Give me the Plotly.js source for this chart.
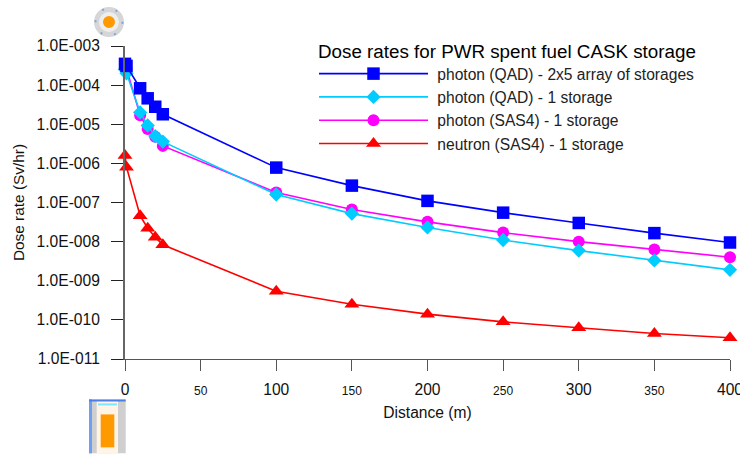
<!DOCTYPE html>
<html>
<head>
<meta charset="utf-8">
<script src="https://cdn.plot.ly/plotly-3.0.1.min.js"></script>
<style>html,body{margin:0;padding:0;background:#fff;}#c{width:740px;height:454px;}</style>
</head>
<body>
<div id="c"></div>
<script>
var distance = [0, 1, 10, 15, 20, 25, 100, 150, 200, 250, 300, 350, 400];
var photonQadArray = [3.5e-4, 3.1e-4, 8.3e-5, 4.6e-5, 2.8e-5, 1.8e-5, 7.8e-7, 2.7e-7, 1.1e-7, 5.5e-8, 3.0e-8, 1.65e-8, 9.5e-9];
var photonQadOne = [2.5e-4, 2.0e-4, 2.0e-5, 9.3e-6, 5.0e-6, 3.6e-6, 1.6e-7, 5.2e-8, 2.3e-8, 1.1e-8, 5.9e-9, 3.3e-9, 1.9e-9];
var photonSasOne = [3.0e-4, 2.6e-4, 1.7e-5, 7.6e-6, 4.8e-6, 2.8e-6, 1.8e-7, 6.6e-8, 3.2e-8, 1.7e-8, 1.0e-8, 6.3e-9, 4.0e-9];
var neutronSasOne = [1.6e-6, 8.0e-7, 4.6e-8, 2.2e-8, 1.3e-8, 8.3e-9, 5.4e-10, 2.5e-10, 1.4e-10, 8.9e-11, 6.3e-11, 4.5e-11, 3.5e-11];
var seriesNames = ['photon (QAD) - 2x5 array of storages', 'photon (QAD) - 1 storage', 'photon (SAS4) - 1 storage', 'neutron (SAS4) - 1 storage'];
var chartTitle = 'Dose rates for PWR spent fuel CASK storage';
var yTickVals = [1e-3, 1e-4, 1e-5, 1e-6, 1e-7, 1e-8, 1e-9, 1e-10, 1e-11];
var yTickText = ['1.0E-003', '1.0E-004', '1.0E-005', '1.0E-006', '1.0E-007', '1.0E-008', '1.0E-009', '1.0E-010', '1.0E-011'];
var xTickVals = [0, 50, 100, 150, 200, 250, 300, 350, 400];
var xTickText = ['0', '<span style="font-size:12px">50</span>', '100', '<span style="font-size:12px">150</span>', '200', '<span style="font-size:12px">250</span>', '300', '<span style="font-size:12px">350</span>', '400'];

function tr(y, name, color, symbol, size, rank) {
  return {x: distance, y: y, name: '\u00a0' + name, mode: 'lines+markers', cliponaxis: false, legendrank: rank,
    line: {color: color, width: 1.6},
    marker: {color: color, symbol: symbol, size: size, line: {width: 0}}};
}
var data = [
  tr(neutronSasOne, seriesNames[3], '#ff0000', 'triangle-up', 13, 4),
  tr(photonSasOne, seriesNames[2], '#ff00ff', 'circle', 12, 3),
  tr(photonQadOne, seriesNames[1], '#00ccff', 'diamond', 11, 2),
  tr(photonQadArray, seriesNames[0], '#0000ff', 'square', 12.5, 1)
];
var FONT = 'Liberation Sans, Arial, sans-serif';
var W = 605, H = 313.5;
function px(v) { return v / W; }
function py(v) { return v / H; }
function deco(type, x0, x1, y0, y1, fill, line) {
  return {type: type, xref: 'paper', yref: 'paper', x0: px(x0), x1: px(x1), y0: py(y0), y1: py(y1),
    fillcolor: fill, line: line || {width: 0}, layer: 'below'};
}
var top0 = H; // icon above the plot area is measured from the bottom of the plot
var layout = {
  width: 740, height: 454,
  margin: {l: 125, r: 10, t: 46, b: 94.5, pad: 0},
  paper_bgcolor: '#fff', plot_bgcolor: '#fff',
  font: {family: FONT, color: '#000', size: 15.6},
  showlegend: true,
  legend: {
    x: px(189), y: 1 - 11 / H, xanchor: 'left', yanchor: 'top',
    bgcolor: 'rgba(0,0,0,0)', borderwidth: 0,
    itemwidth: 109, itemclick: false,
    font: {family: FONT, size: 15.6, color: '#222'}
  },
  annotations: [{
    text: chartTitle, xref: 'paper', yref: 'paper', x: px(191), y: 1 - 6 / H,
    xanchor: 'left', yanchor: 'middle', showarrow: false,
    font: {family: FONT, size: 18.8, color: '#000'}
  }],
  xaxis: {
    range: [0, 400], tickmode: 'array', tickvals: xTickVals, ticktext: xTickText,
    ticks: 'outside', ticklen: 11, tickwidth: 1, tickcolor: '#555',
    ticklabelstandoff: 5, ticklabeloverflow: 'allow',
    showline: true, linecolor: '#555', linewidth: 1, showgrid: false, zeroline: false,
    tickfont: {family: FONT, size: 15.6, color: '#111'},
    title: {text: 'Distance (m)', font: {family: FONT, size: 15.6, color: '#111'}, standoff: 10}
  },
  yaxis: {
    type: 'log', range: [-11, -3], tickmode: 'array', tickvals: yTickVals, ticktext: yTickText,
    ticks: 'outside', ticklen: 12, tickwidth: 1, tickcolor: '#222',
    ticklabelstandoff: 8,
    showline: true, linecolor: '#666', linewidth: 2, showgrid: false, zeroline: false,
    tickfont: {family: FONT, size: 15.6, color: '#111'},
    title: {text: 'Dose rate (Sv/hr)', font: {family: FONT, size: 15.4, color: '#111'}, standoff: 8}
  },
  shapes: [
    deco('circle', -31, -1, top0 + 9, top0 + 39, '#d6d6d6'),
    deco('circle', -29.5, -2.5, top0 + 10.5, top0 + 37.5, 'rgba(0,0,0,0)', {color: '#7aa6ea', width: 2, dash: '2px 12px'}),
    deco('circle', -26, -6, top0 + 14, top0 + 34, '#eeeeee'),
    deco('circle', -22, -10, top0 + 18, top0 + 30, '#ff9900'),
    deco('rect', -36, 0.7, -94.5, -40.5, '#cfcfcf'),
    deco('rect', -28.3, -7, -94.5, -42, '#fff4e6'),
    deco('rect', -36, -33, -94.5, -40.5, '#6f9ff0'),
    deco('rect', -36, 0.7, -42.5, -40.5, '#4a7fe8'),
    deco('rect', -27, -8, -46.5, -44.5, '#7fe6ff'),
    deco('rect', -24.3, -10.7, -88.5, -55.5, '#ff9900')
  ]
};
Plotly.newPlot('c', data, layout, {displayModeBar: false, staticPlot: true});
</script>
</body>
</html>
